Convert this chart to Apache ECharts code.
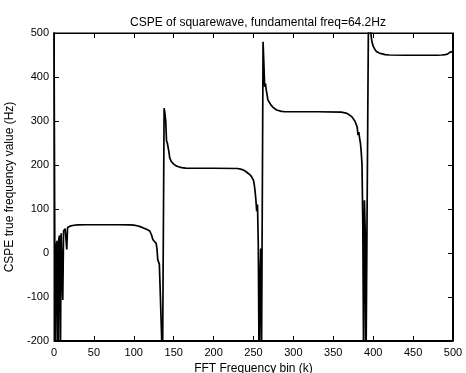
<!DOCTYPE html>
<html>
<head>
<meta charset="utf-8">
<script src="https://cdn.jsdelivr.net/npm/echarts@6/dist/echarts.min.js"></script>
<style>
html,body{margin:0;padding:0;background:#fff;}
#chart{width:466px;height:373px;}
</style>
</head>
<body>
<div id="chart"></div>
<script>
// FFT bin index (k)
const bins = [
  0,1,2,3,4,5,6,7,8,9,10,11,12,13,14,15,16,17,18,20,22,25,30,40,60,80,95,100,104,108,112,116,120,122,124,126,128,129,130,131,132,133,134,135,136,137,
  138,139,140,141,142,143,144,145,147,150,153,156,160,165,170,200,230,235,238,240,242,244,246,248,250,251,252,253,254,255,256,257,258,259,260,261,
  262,263,264,265,266,267,268,270,272,275,279,285,290,330,360,366,370,373,375,377,379,380,381,382,383,384,385,386,387,388,389,390,391,392,393,
  394,396,397,398,399,400,402,404,407,410,415,420,440,480,486,490,493,495,496,497,498,499,500
];
// CSPE true frequency value (Hz)
const cspeValues = [
  520,10,-260,20,28,-260,32,40,-260,45,48,-107,50,48,55,57,8,58,60,61,62,63,64,64.2,64.2,64.2,64,63.5,62,60,57,54,50,42,30,28,22,10,-15,-18,-25,-80,-140,-200,-260,-260,
  329,318,300,255,250,240,230,216,208,202,198,196,194,193,192.6,192.6,192,190,188,185,183,180,177,172,165,155,140,120,95,110,20,-260,-60,10,-260,-260,
  480,430,378,385,370,360,348,342,336,330,325,322,321,321,320,318,314,310,306,300,291,285,268,275,260,250,230,200,60,-260,120,50,-260,-260,-260,
  520,510,500,485,476,470,463,458,455,453,451,450,449.4,449.4,450,451,452,454,456,460,452,458,455
];
const titleText = 'CSPE of squarewave, fundamental freq=64.2Hz';
const xName = 'FFT Frequency bin (k)';
const yName = 'CSPE true frequency value (Hz)';
const xRange = [0, 500, 50];
const yRange = [-200, 500, 100];

const data = bins.map((b, i) => [b, cspeValues[i]]);
const font = 'Liberation Sans, Arial, sans-serif';
const black = '#000';

const chart = echarts.init(document.getElementById('chart'));
function axisStyle() {
  return {
    axisLine: {show: true, onZero: false, lineStyle: {color: black, width: 1}},
    axisTick: {show: true, inside: true, length: 5, lineStyle: {color: black, width: 1}},
    splitLine: {show: false}
  };
}
chart.setOption({
  animation: false,
  title: {
    text: titleText,
    left: 253, top: 12, textAlign: 'center',
    textStyle: {fontFamily: font, fontSize: 12, fontWeight: 'normal', color: black}
  },
  grid: {left: 54, right: 13, top: 33, bottom: 32, containLabel: false, outerBoundsMode: 'none',
         show: true, borderColor: black, borderWidth: 1},
  xAxis: [
    Object.assign(axisStyle(), {
      type: 'value', position: 'bottom', min: xRange[0], max: xRange[1], interval: xRange[2],
      axisLabel: {color: black, fontFamily: font, fontSize: 11, margin: 6},
      name: xName, nameLocation: 'middle', nameGap: 20,
      nameTextStyle: {color: black, fontFamily: font, fontSize: 12}
    }),
    Object.assign(axisStyle(), {
      type: 'value', position: 'top', min: xRange[0], max: xRange[1], interval: xRange[2],
      axisLabel: {show: false}
    })
  ],
  yAxis: [
    Object.assign(axisStyle(), {
      type: 'value', position: 'left', min: yRange[0], max: yRange[1], interval: yRange[2],
      axisLabel: {color: black, fontFamily: font, fontSize: 11, margin: 5},
      name: yName, nameLocation: 'middle', nameGap: 34, nameRotate: 90,
      nameTextStyle: {color: black, fontFamily: font, fontSize: 12}
    }),
    Object.assign(axisStyle(), {
      type: 'value', position: 'right', min: yRange[0], max: yRange[1], interval: yRange[2],
      axisLabel: {show: false}
    })
  ],
  series: [{
    type: 'line',
    xAxisIndex: 0, yAxisIndex: 0,
    data: data,
    showSymbol: false,
    clip: true,
    lineStyle: {color: black, width: 1.7},
    itemStyle: {color: black}
  }]
});

// Frame of the axes box, placed from the library's own scales
const p0 = chart.convertToPixel({xAxisIndex: 0, yAxisIndex: 0}, [xRange[0], yRange[1]]);
const p1 = chart.convertToPixel({xAxisIndex: 0, yAxisIndex: 0}, [xRange[1], yRange[0]]);
if (p0 && p1) {
  const x0 = Math.round(p0[0]) + 0.5, y0 = Math.round(p0[1]) + 0.5;
  const x1 = Math.round(p1[0]) - 0.5, y1 = Math.round(p1[1]) - 0.5;
  chart.setOption({
    graphic: [{
      type: 'rect', z: 100, silent: true,
      shape: {x: x0, y: y0, width: x1 - x0, height: y1 - y0},
      style: {fill: 'none', stroke: black, lineWidth: 1}
    }]
  });
}
</script>
</body>
</html>
